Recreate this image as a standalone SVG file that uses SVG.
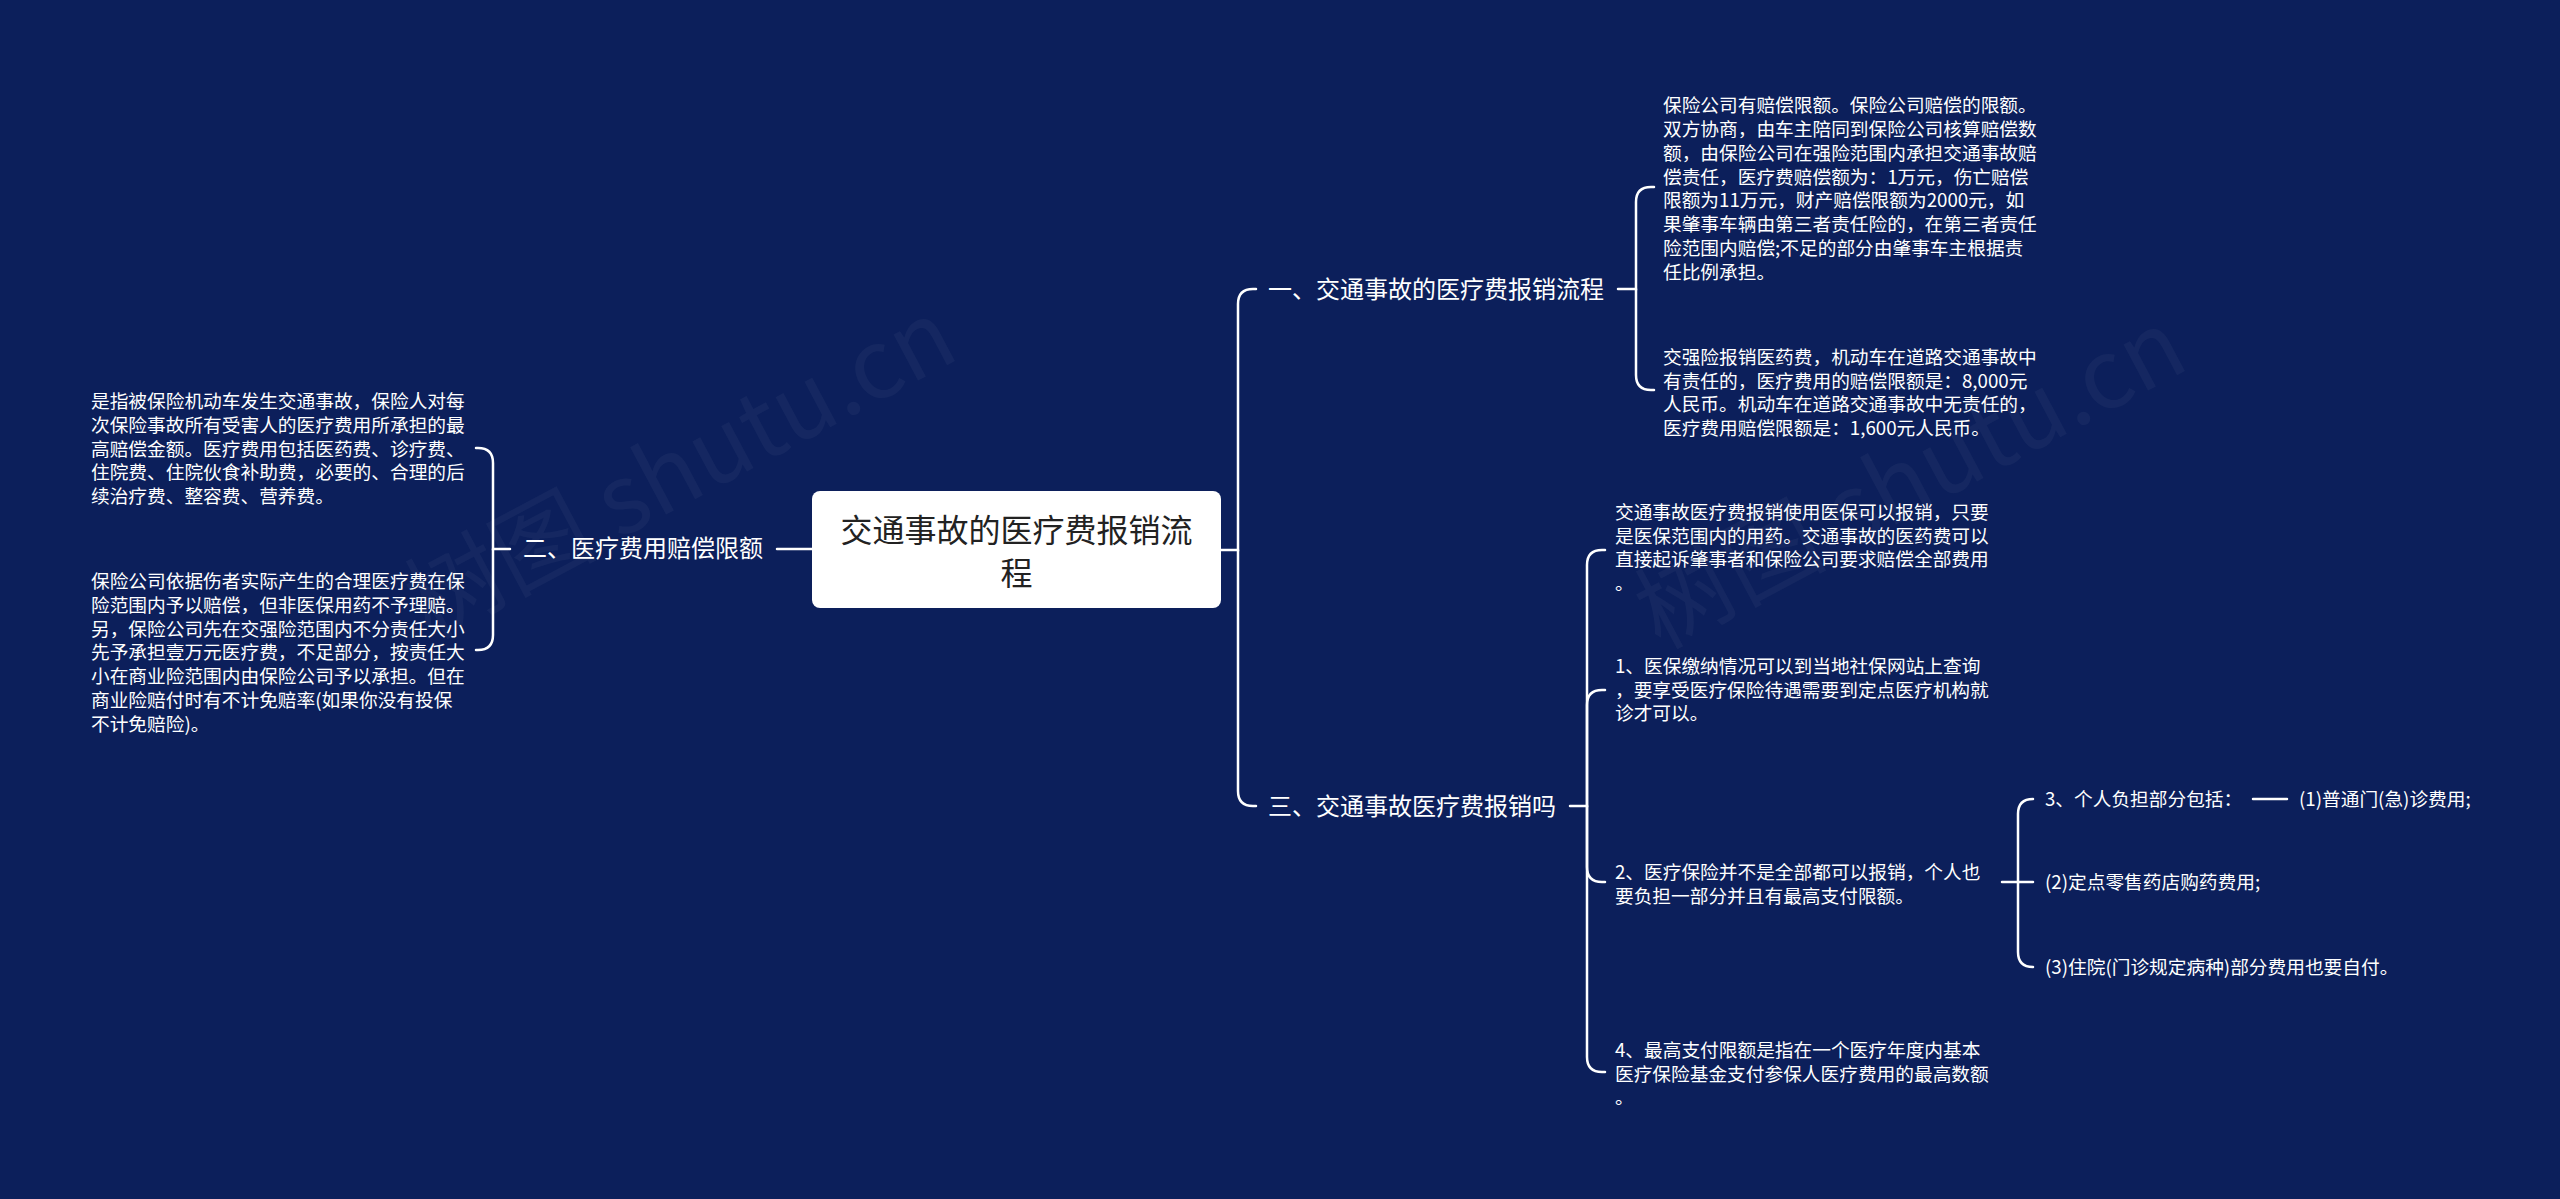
<svg xmlns="http://www.w3.org/2000/svg" width="2560" height="1199" viewBox="0 0 2560 1199">
<style>
text{font-family:"Noto Sans CJK SC","Noto Sans",sans-serif;fill:#ffffff}
.leaf{font-size:18.7px}
.br{font-size:24px}
.root{font-size:32px;fill:#222222}
.wm{font-size:96px;fill:#ffffff;fill-opacity:0.04}
.c{fill:none;stroke:#ffffff;stroke-width:2.5;stroke-linecap:round}
</style>
<rect x="0" y="0" width="2560" height="1199" fill="#0c1f5b"/>
<g id="watermark">
<text class="wm" x="430" y="640" transform="rotate(-28 430 640)">树图 shutu.cn</text>
<text class="wm" x="1660" y="650" transform="rotate(-28 1660 650)">树图 shutu.cn</text>
</g>
<g id="connectors">
<path class="c" d="M777,549 H812"/>
<path class="c" d="M510,549 H493 V463 Q493,448 478,448 H476"/>
<path class="c" d="M493,549 V635 Q493,650 478,650 H476"/>
<path class="c" d="M1221,550 H1238 V304 Q1238,289 1253,289 H1256"/>
<path class="c" d="M1238,550 V791 Q1238,806 1253,806 H1256"/>
<path class="c" d="M1618,289 H1636 V202 Q1636,187 1651,187 H1654"/>
<path class="c" d="M1636,289 V375 Q1636,390 1651,390 H1654"/>
<path class="c" d="M1570,806 H1587 V565 Q1587,550 1602,550 H1605"/>
<path class="c" d="M1587,806 V705 Q1587,690 1602,690 H1605"/>
<path class="c" d="M1587,806 V867 Q1587,882 1602,882 H1605"/>
<path class="c" d="M1587,806 V1057 Q1587,1072 1602,1072 H1605"/>
<path class="c" d="M2002,882 H2018 V814 Q2018,799 2033,799"/>
<path class="c" d="M2018,882 H2033"/>
<path class="c" d="M2018,882 V952 Q2018,967 2033,967"/>
<path class="c" d="M2253,799 H2287"/>
</g>
<g id="root">
<rect x="812" y="491" width="409" height="117" rx="8" fill="#ffffff"/>
<text class="root" text-anchor="middle"><tspan x="1016.5" y="542">交通事故的医疗费报销流</tspan><tspan x="1016.5" y="585">程</tspan></text>
</g>
<g id="branch1">
<text class="br" x="1268" y="298">一、交通事故的医疗费报销流程</text>
</g>
<g id="leaf1a">
<text class="leaf"><tspan x="1663" y="112">保险公司有赔偿限额。保险公司赔偿的限额。</tspan><tspan x="1663" dy="23.86">双方协商，由车主陪同到保险公司核算赔偿数</tspan><tspan x="1663" dy="23.86">额，由保险公司在强险范围内承担交通事故赔</tspan><tspan x="1663" dy="23.86">偿责任，医疗费赔偿额为：1万元，伤亡赔偿</tspan><tspan x="1663" dy="23.86">限额为11万元，财产赔偿限额为2000元，如</tspan><tspan x="1663" dy="23.86">果肇事车辆由第三者责任险的，在第三者责任</tspan><tspan x="1663" dy="23.86">险范围内赔偿;不足的部分由肇事车主根据责</tspan><tspan x="1663" dy="23.86">任比例承担。</tspan></text>
</g>
<g id="leaf1b">
<text class="leaf"><tspan x="1663" y="364">交强险报销医药费，机动车在道路交通事故中</tspan><tspan x="1663" dy="23.5">有责任的，医疗费用的赔偿限额是：8,000元</tspan><tspan x="1663" dy="23.5">人民币。机动车在道路交通事故中无责任的，</tspan><tspan x="1663" dy="23.5">医疗费用赔偿限额是：1,600元人民币。</tspan></text>
</g>
<g id="branch2">
<text class="br" x="523" y="557">二、医疗费用赔偿限额</text>
</g>
<g id="leaf2a">
<text class="leaf"><tspan x="91" y="408">是指被保险机动车发生交通事故，保险人对每</tspan><tspan x="91" dy="23.75">次保险事故所有受害人的医疗费用所承担的最</tspan><tspan x="91" dy="23.75">高赔偿金额。医疗费用包括医药费、诊疗费、</tspan><tspan x="91" dy="23.75">住院费、住院伙食补助费，必要的、合理的后</tspan><tspan x="91" dy="23.75">续治疗费、整容费、营养费。</tspan></text>
</g>
<g id="leaf2b">
<text class="leaf"><tspan x="91" y="588">保险公司依据伤者实际产生的合理医疗费在保</tspan><tspan x="91" dy="23.8">险范围内予以赔偿，但非医保用药不予理赔。</tspan><tspan x="91" dy="23.8">另，保险公司先在交强险范围内不分责任大小</tspan><tspan x="91" dy="23.8">先予承担壹万元医疗费，不足部分，按责任大</tspan><tspan x="91" dy="23.8">小在商业险范围内由保险公司予以承担。但在</tspan><tspan x="91" dy="23.8">商业险赔付时有不计免赔率(如果你没有投保</tspan><tspan x="91" dy="23.8">不计免赔险)。</tspan></text>
</g>
<g id="branch3">
<text class="br" x="1268" y="815">三、交通事故医疗费报销吗</text>
</g>
<g id="leaf3a">
<text class="leaf"><tspan x="1615" y="519">交通事故医疗费报销使用医保可以报销，只要</tspan><tspan x="1615" dy="23.5">是医保范围内的用药。交通事故的医药费可以</tspan><tspan x="1615" dy="23.5">直接起诉肇事者和保险公司要求赔偿全部费用</tspan><tspan x="1615" dy="23.5">。</tspan></text>
</g>
<g id="leaf3b">
<text class="leaf"><tspan x="1615" y="673">1、医保缴纳情况可以到当地社保网站上查询</tspan><tspan x="1615" dy="23.5">，要享受医疗保险待遇需要到定点医疗机构就</tspan><tspan x="1615" dy="23.5">诊才可以。</tspan></text>
</g>
<g id="leaf3c">
<text class="leaf"><tspan x="1615" y="879">2、医疗保险并不是全部都可以报销，个人也</tspan><tspan x="1615" dy="23.5">要负担一部分并且有最高支付限额。</tspan></text>
</g>
<g id="leaf3d">
<text class="leaf"><tspan x="1615" y="1057">4、最高支付限额是指在一个医疗年度内基本</tspan><tspan x="1615" dy="23.5">医疗保险基金支付参保人医疗费用的最高数额</tspan><tspan x="1615" dy="23.5">。</tspan></text>
</g>
<g id="sub3">
<text class="leaf" x="2045" y="806">3、个人负担部分包括：</text>
</g>
<g id="sub3-1">
<text class="leaf" x="2299" y="806">(1)普通门(急)诊费用;</text>
</g>
<g id="sub2">
<text class="leaf" x="2045" y="889">(2)定点零售药店购药费用;</text>
</g>
<g id="sub4">
<text class="leaf" x="2045" y="974">(3)住院(门诊规定病种)部分费用也要自付。</text>
</g>
</svg>
